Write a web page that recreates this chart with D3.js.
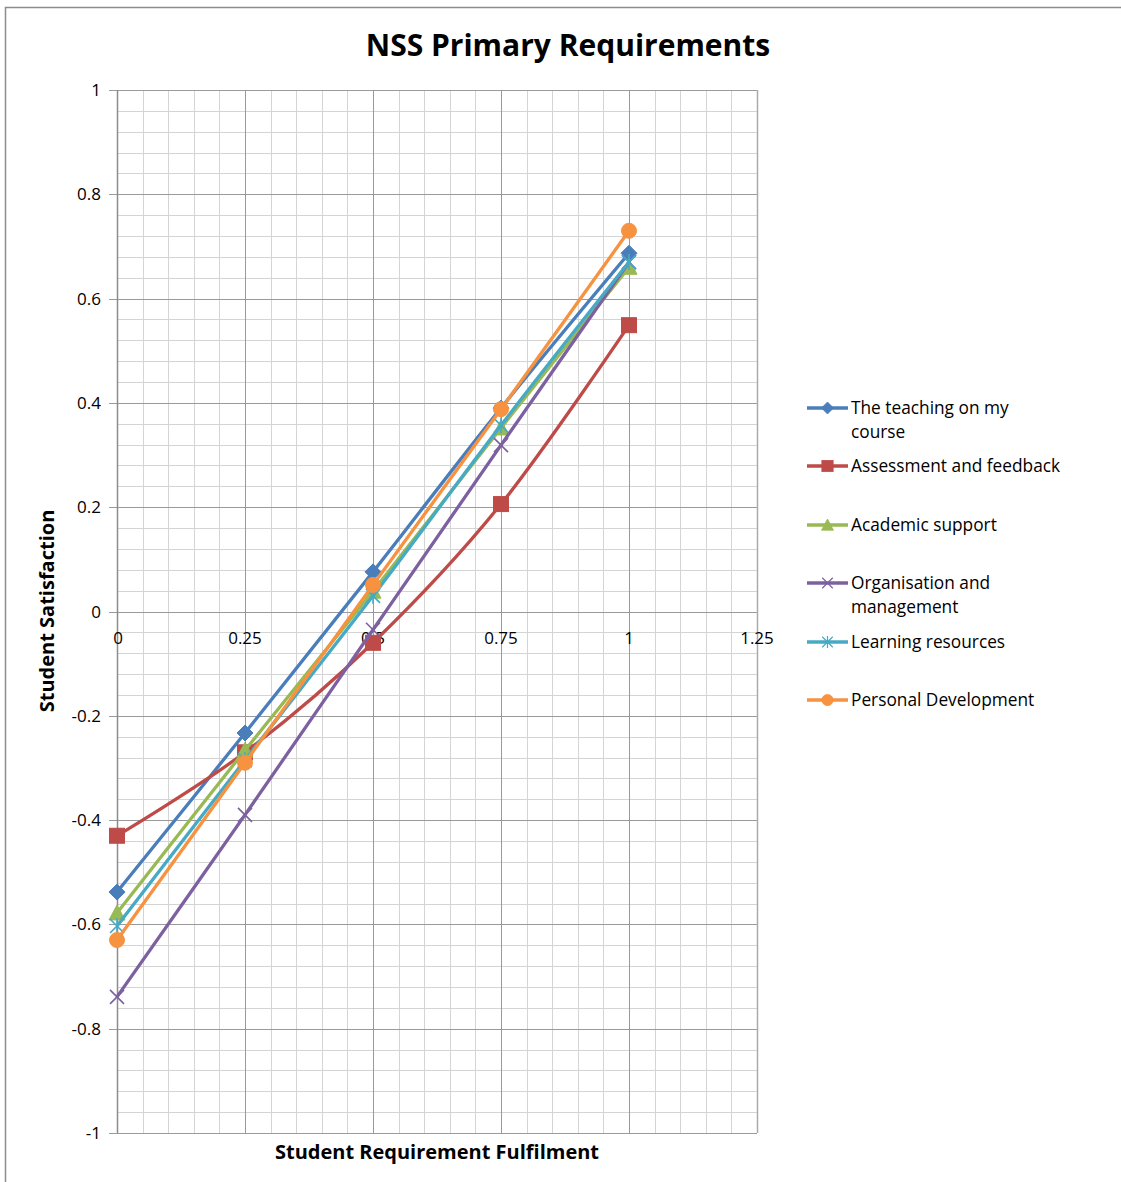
<!DOCTYPE html>
<html><head><meta charset="utf-8">
<script src="https://cdn.jsdelivr.net/npm/d3@7"></script>
<style>body{margin:0;background:#fff}svg{display:block}text{font-family:"Open Sans","Noto Sans",sans-serif}</style>
</head><body><svg id="c" width="1121" height="1182"></svg>
<script>
const xValues = [0, 0.25, 0.5, 0.75, 1];
const seriesNames = ["The teaching on my course","Assessment and feedback","Academic support","Organisation and management","Learning resources","Personal Development"];
const teaching = [-0.538, -0.233, 0.076, 0.39, 0.687];
const assessment = [-0.43, -0.27, -0.06, 0.206, 0.549];
const academic = [-0.578, -0.266, 0.039, 0.352, 0.66];
const organisation = [-0.739, -0.39, -0.035, 0.319, 0.67];
const learning = [-0.603, -0.285, 0.03, 0.357, 0.67];
const personal = [-0.63, -0.29, 0.051, 0.388, 0.73];
const xTicks = [0, 0.25, 0.5, 0.75, 1, 1.25];
const yTicks = [-1, -0.8, -0.6, -0.4, -0.2, 0, 0.2, 0.4, 0.6, 0.8, 1];

const colors = ["#4A7EBB","#BE4B48","#98B954","#7D60A0","#46AAC5","#F69240"];
const markers = ["diamond","square","triangle","x","asterisk","circle"];
const allSeries = [teaching, assessment, academic, organisation, learning, personal];

const fmt = v => String(v);

const svg = d3.select("#c");
svg.append("rect").attr("x",5.5).attr("y",7.5).attr("width",1130).attr("height",1190).attr("fill","#fff").attr("stroke","#8c8c8c").attr("stroke-width",1.5);

const x = d3.scaleLinear().domain([0,1.25]).range([117,757]);
const y = d3.scaleLinear().domain([-1,1]).range([1133,90]);

const g = svg.append("g");
d3.range(0,1.2501,0.05).forEach(v=>{
  g.append("line").attr("x1",Math.round(x(v))+0.5).attr("x2",Math.round(x(v))+0.5).attr("y1",y(1)).attr("y2",y(-1)).attr("stroke","#d4d4d4").attr("stroke-width",1);
});
d3.range(-1,1.0001,0.04).forEach(v=>{
  g.append("line").attr("y1",Math.round(y(v))+0.5).attr("y2",Math.round(y(v))+0.5).attr("x1",x(0)).attr("x2",x(1.25)).attr("stroke","#d4d4d4").attr("stroke-width",1);
});
xTicks.forEach(v=>{
  g.append("line").attr("x1",Math.round(x(v))+0.5).attr("x2",Math.round(x(v))+0.5).attr("y1",y(1)).attr("y2",y(-1)).attr("stroke","#9a9a9a").attr("stroke-width",1);
});
yTicks.forEach(v=>{
  g.append("line").attr("y1",Math.round(y(v))+0.5).attr("y2",Math.round(y(v))+0.5).attr("x1",x(0)-8).attr("x2",x(1.25)).attr("stroke","#9a9a9a").attr("stroke-width",1);
});
g.append("line").attr("x1",Math.round(x(0))+0.5).attr("x2",Math.round(x(0))+0.5).attr("y1",y(1)).attr("y2",y(-1)).attr("stroke","#8c8c8c").attr("stroke-width",1.5);
g.append("line").attr("x1",Math.round(x(1.25))+0.5).attr("x2",Math.round(x(1.25))+0.5).attr("y1",y(1)).attr("y2",y(-1)).attr("stroke","#aaa").attr("stroke-width",1.5);

yTicks.forEach(v=>{
  g.append("text").attr("x",101).attr("y",y(v)+6).attr("text-anchor","end").attr("font-size",17).attr("fill","#000").text(fmt(v));
});
xTicks.forEach(v=>{
  g.append("text").attr("x",x(v)+ (v===0?1:0)).attr("y",y(0)+32).attr("text-anchor","middle").attr("font-size",17).attr("fill","#000").text(fmt(v));
});

svg.append("text").attr("x",568).attr("y",56).attr("text-anchor","middle").attr("font-size",30).attr("font-weight","bold").text("NSS Primary Requirements");
svg.append("text").attr("x",437).attr("y",1159).attr("text-anchor","middle").attr("font-size",20).attr("font-weight","bold").text("Student Requirement Fulfilment");
svg.append("text").attr("transform","translate(54,611) rotate(-90)").attr("text-anchor","middle").attr("font-size",20).attr("font-weight","bold").text("Student Satisfaction");

function drawMarker(sel, type, cx, cy, color){
  const m = sel.append("g").attr("transform",`translate(${cx},${cy})`);
  if(type==="diamond") m.append("path").attr("d","M0,-8L8,0L0,8L-8,0Z").attr("fill",color).attr("stroke",color);
  else if(type==="square") m.append("rect").attr("x",-7.5).attr("y",-7.5).attr("width",15).attr("height",15).attr("fill",color).attr("stroke",color);
  else if(type==="triangle") m.append("path").attr("d","M0,-8L8,7L-8,7Z").attr("fill",color).attr("stroke",color);
  else if(type==="x") m.append("path").attr("d","M-7,-7L7,7M-7,7L7,-7").attr("stroke",color).attr("stroke-width",1.6).attr("fill","none");
  else if(type==="asterisk") m.append("path").attr("d","M-7,-7L7,7M-7,7L7,-7M0,-8L0,8").attr("stroke",color).attr("stroke-width",1.6).attr("fill","none");
  else if(type==="circle") m.append("circle").attr("r",7.5).attr("fill",color).attr("stroke",color);
}

const line = d3.line().x((d,i)=>x(xValues[i])).y(d=>y(d)).curve(d3.curveCatmullRom.alpha(0));
allSeries.forEach((s,k)=>{
  g.append("path").datum(s).attr("d",line).attr("fill","none").attr("stroke",colors[k]).attr("stroke-width",3.3).attr("stroke-linejoin","round");
  s.forEach((v,i)=>drawMarker(g, markers[k], x(xValues[i]), y(v), colors[k]));
});

const legendRows = [[408,432],[466],[525],[583,607],[642],[700]];
const legendLines = [["The teaching on my","course"],["Assessment and feedback"],["Academic support"],["Organisation and","management"],["Learning resources"],["Personal Development"]];
const lg = svg.append("g");
seriesNames.forEach((name,k)=>{
  const ly = legendRows[k][0];
  lg.append("line").attr("x1",807).attr("x2",848).attr("y1",ly).attr("y2",ly).attr("stroke",colors[k]).attr("stroke-width",3.3);
  const mg = lg.append("g");
  drawMarker(mg, markers[k], 827.5, ly, colors[k]);
  mg.attr("transform",`translate(${827.5*0.25},${ly*0.25}) scale(0.75)`);
  legendLines[k].forEach((t,j)=>{
    lg.append("text").attr("x",851).attr("y",legendRows[k][j]+6).attr("font-size",17.3).attr("fill","#000").text(t);
  });
});
</script></body></html>
